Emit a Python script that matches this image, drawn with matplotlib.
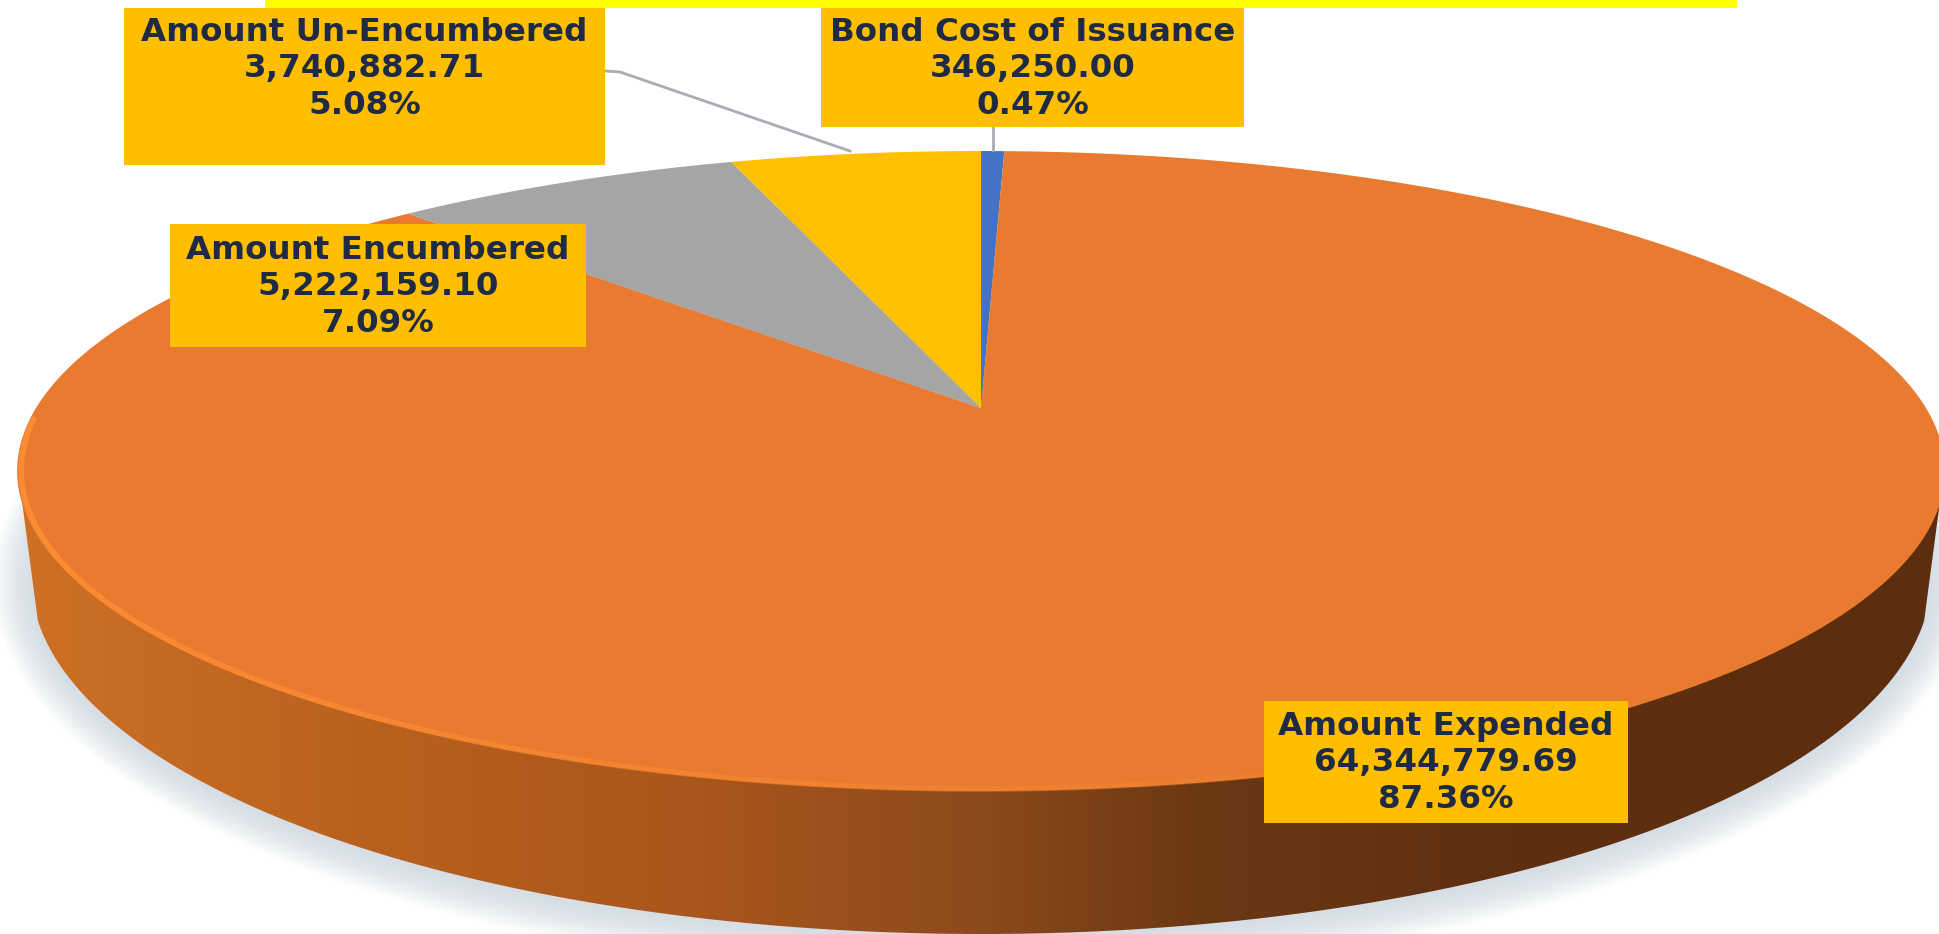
import numpy as np
import matplotlib
matplotlib.use('Agg')
import matplotlib.pyplot as plt
from matplotlib.collections import LineCollection
from matplotlib.colors import LinearSegmentedColormap, to_rgb
from matplotlib.patches import Ellipse, Polygon, Rectangle
from matplotlib.path import Path
from matplotlib.transforms import Transform

# Chart data, clockwise from twelve o'clock
categories = ['Bond Cost of Issuance', 'Amount Expended', 'Amount Encumbered', 'Amount Un-Encumbered']
amounts = [346250.00, 64344779.69, 5222159.10, 3740882.71]
percents = ['0.47%', '87.36%', '7.09%', '5.08%']
slice_colors = ['#4472C4', '#E87B30', '#A5A5A5', '#FFC000']

# Label boxes in image pixels: left, top, right, bottom, text centre y
label_boxes = {
    'Bond Cost of Issuance': (821, 8, 1244, 127, 69),
    'Amount Expended': (1264, 701, 1628, 823, 763),
    'Amount Encumbered': (170, 224, 586, 347, 287),
    'Amount Un-Encumbered': (124, 8, 605, 165, 69),
}

WIDTH, HEIGHT = 1939, 934
BOX_COLOR = '#FFBE00'
TEXT_COLOR = '#1F2A44'
LEADER_COLOR = '#A9ADB3'

# Camera tilt of the pie plane: apex at (981, 408), top edge 151, bottom edge 791
APEX_X, APEX_Y = 981, 408
TILT_A, TILT_B, TILT_K = 945.0, 307.6, 0.197

# Lower rim of the disc
BASE_X, BASE_Y, BASE_A, BASE_B = 981, 578, 950, 356


class PieTilt(Transform):
    """Maps the unit circle of ax.pie on to the tilted disc, in image pixels."""
    input_dims = 2
    output_dims = 2
    is_separable = False
    has_inverse = False

    def transform_non_affine(self, values):
        values = np.asarray(values, dtype=float)
        w = 1 + TILT_K * values[:, 1]
        return np.column_stack((APEX_X + TILT_A * values[:, 0] / w,
                                APEX_Y - TILT_B * values[:, 1] / w))

    def transform_path_non_affine(self, path):
        # flatten the curves first, control points do not survive the tilt
        t = np.linspace(0, 1, 24)
        pieces = [curve(t) for curve, code in path.iter_bezier() if code != Path.MOVETO]
        return Path(self.transform_non_affine(np.vstack(pieces)))


def draw_shadow(ax):
    for i in range(20):
        ax.add_patch(Ellipse((BASE_X, BASE_Y + 4), 2 * (BASE_A + i * 2), 2 * (BASE_B + i * 2),
                             facecolor='#C3CEDA', edgecolor='none', alpha=0.045, zorder=1))


def draw_wall(ax):
    t = np.linspace(np.pi - 0.12, 0.12, 300)
    rim_x = BASE_X + BASE_A * np.cos(t)
    rim_y = BASE_Y + BASE_B * np.sin(t)
    outline = np.vstack(([[18, 471]], np.column_stack((rim_x, rim_y)), [[1944, 471]]))
    wall = Polygon(outline, closed=True, facecolor='none', edgecolor='none', zorder=2)
    ax.add_patch(wall)

    stops = [(0.0, '#CF7126'), (0.18, '#B9621F'), (0.36, '#A9561C'), (0.5, '#8E4A1B'),
             (0.62, '#6B3814'), (0.78, '#5E3010'), (1.0, '#5C2E0E')]
    cmap = LinearSegmentedColormap.from_list('wall', stops)
    gradient = np.linspace(0, 1, 512).reshape(1, -1)
    img = ax.imshow(gradient, cmap=cmap, extent=(0, WIDTH, HEIGHT, 0), aspect='auto', zorder=2)
    img.set_clip_path(wall)


def draw_rim_highlight(ax, tilt):
    t = np.linspace(np.pi + 0.03, 1.62 * np.pi, 300)
    pts = tilt.transform(0.996 * np.column_stack((np.cos(t), np.sin(t))))
    segs = np.stack((pts[:-1], pts[1:]), axis=1)
    rgb = to_rgb('#FF8D33')
    alpha = np.clip(1.15 - np.linspace(0, 1, len(segs)), 0, 1)
    colors = [(*rgb, a) for a in alpha]
    ax.add_collection(LineCollection(segs, colors=colors, linewidths=4.0, zorder=4))


def draw_label(ax, name, amount, percent):
    left, top, right, bottom, text_y = label_boxes[name]
    ax.add_patch(Rectangle((left, top), right - left, bottom - top, facecolor=BOX_COLOR,
                           edgecolor='none', zorder=6))
    ax.text((left + right) / 2, text_y, f'{name}\n{amount:,.2f}\n{percent}', ha='center', va='center',
            fontsize=23.4, fontweight='bold', family='DejaVu Sans', color=TEXT_COLOR,
            linespacing=1.22, zorder=7)


def main():
    fig = plt.figure(figsize=(WIDTH / 100, HEIGHT / 100), dpi=100)
    ax = fig.add_axes([0, 0, 1, 1])

    tilt = PieTilt()
    wedges, _ = ax.pie(amounts, colors=slice_colors, startangle=90, counterclock=False)
    for wedge in wedges:
        wedge.set_transform(tilt + ax.transData)
        wedge.set_zorder(3)

    draw_shadow(ax)
    draw_wall(ax)
    draw_rim_highlight(ax, tilt)

    # Yellow strip cut off by the top of the picture
    ax.add_patch(Rectangle((265, 0), 1472, 8, facecolor='#FFFF00', edgecolor='none', zorder=5))

    # Leader lines
    ax.plot([605, 620, 850], [71, 72, 151], color=LEADER_COLOR, lw=2, zorder=5)
    ax.plot([993, 993], [127, 150], color=LEADER_COLOR, lw=2, zorder=5)

    for name, amount, percent in zip(categories, amounts, percents):
        draw_label(ax, name, amount, percent)

    ax.set_aspect('auto')
    ax.set_xlim(0, WIDTH)
    ax.set_ylim(HEIGHT, 0)
    ax.axis('off')
    fig.savefig('out.png', dpi=100, facecolor='white')


if __name__ == '__main__':
    main()
